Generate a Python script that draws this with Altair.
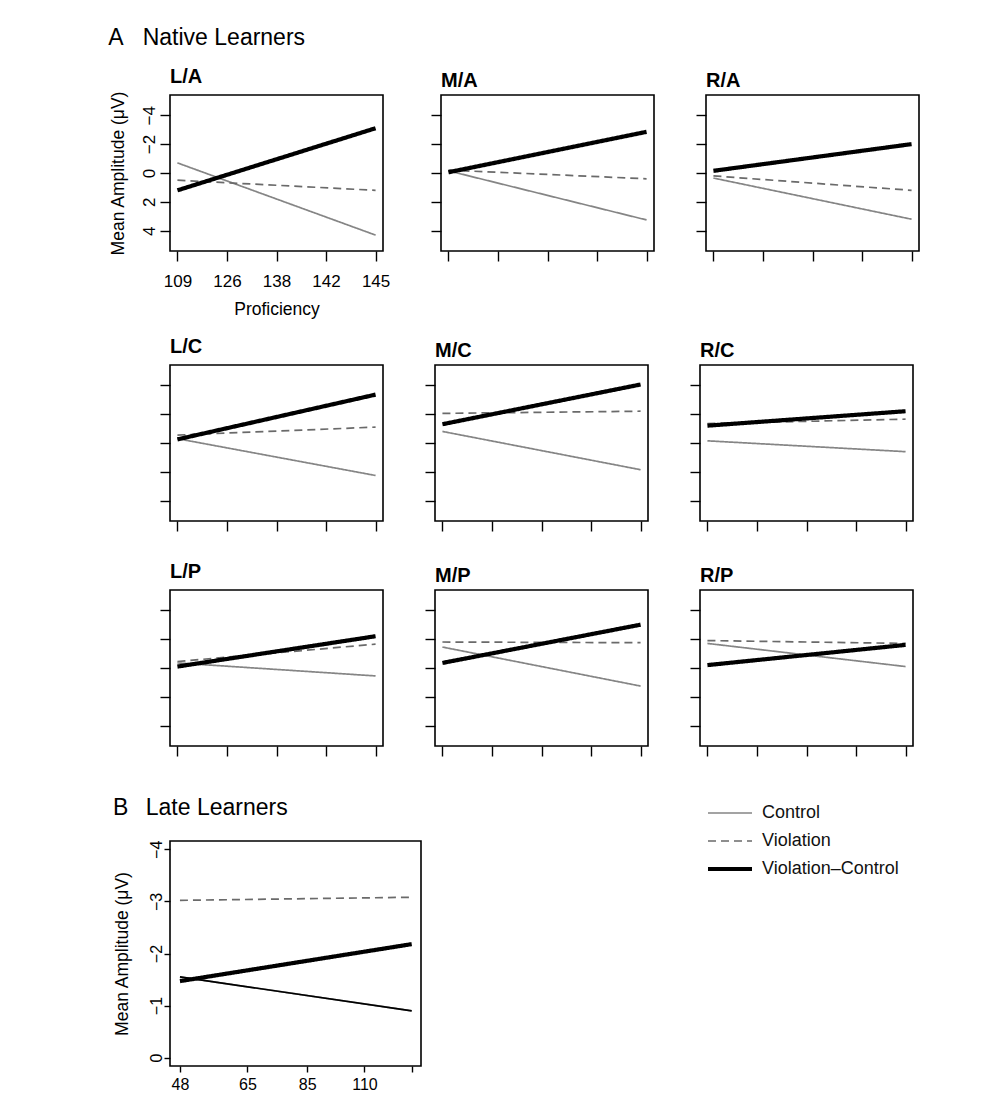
import altair as alt
import pandas as pd

# ---------------- data ----------------
series = ["Control", "Violation", "Violation\u2013Control"]
prof_ticks = [109, 126, 138, 142, 145]
panels = ["L/A", "M/A", "R/A", "L/C", "M/C", "R/C", "L/P", "M/P", "R/P"]

# mean amplitude (uV) at lowest (109) and highest (145) proficiency
control_start = [-0.7, -0.15, 0.35, -0.3, -0.8, -0.15, -0.35, -1.45, -1.7]
control_end = [4.3, 3.25, 3.2, 2.25, 1.85, 0.6, 0.55, 1.25, -0.1]
violation_start = [0.5, -0.2, 0.2, -0.55, -2.05, -1.35, -0.45, -1.8, -1.9]
violation_end = [1.2, 0.4, 1.2, -1.1, -2.2, -1.65, -1.65, -1.75, -1.7]
diff_start = [1.2, -0.05, -0.15, -0.25, -1.3, -1.2, -0.1, -0.35, -0.2]
diff_end = [-3.1, -2.85, -2.0, -3.35, -4.05, -2.2, -2.2, -3.0, -1.6]

a_y_ticks = [-4, -2, 0, 2, 4]

late_ticks = [48, 65, 85, 110, 136]
late_control = [-1.55, -0.9]
late_violation = [-3.02, -3.08]
late_diff = [-1.47, -2.18]
b_y_ticks = [-4, -3, -2, -1, 0]

FONT = "Liberation Sans"
THICK, THIN = 4.2, 1.7

rows = []
for i, p in enumerate(panels):
    for s, st, en in [(series[0], control_start[i], control_end[i]),
                      (series[1], violation_start[i], violation_end[i]),
                      (series[2], diff_start[i], diff_end[i])]:
        rows.append({"panel": p, "series": s, "prof": prof_ticks[0], "value": st})
        rows.append({"panel": p, "series": s, "prof": prof_ticks[-1], "value": en})
dfA = pd.DataFrame(rows)

rowsB = []
for s, vals in [(series[0], late_control), (series[1], late_violation), (series[2], late_diff)]:
    rowsB.append({"series": s, "prof": late_ticks[0], "value": vals[0]})
    rowsB.append({"series": s, "prof": late_ticks[-1], "value": vals[1]})
dfB = pd.DataFrame(rowsB)

width_expr = "datum.value === '%s' ? %s : %s" % (series[2], THICK, THIN)
legend_def = alt.Legend(
    title=None, orient="none", legendX=551, legendY=709,
    symbolType="stroke", symbolSize=1936, labelFontSize=18, labelFont=FONT,
    labelColor="#111111", labelOffset=23, rowPadding=10, padding=0,
    symbolStrokeWidth={"expr": width_expr},
)

color_enc = alt.Color("series:N", scale=alt.Scale(domain=series, range=["#858585", "#6a6a6a", "#000000"]), legend=legend_def)
dash_enc = alt.StrokeDash("series:N", scale=alt.Scale(domain=series, range=[[1, 0], [8, 5], [1, 0]]), legend=legend_def)
width_enc = alt.condition(alt.datum.series == series[2], alt.value(THICK), alt.value(THIN))

PW, PH = 213, 156


def panel(name, r, c):
    d = dfA[dfA["panel"] == name]
    first = (r == 0 and c == 0)
    if first:
        xaxis = alt.Axis(values=prof_ticks, labelAngle=0, tickSize=10, labelPadding=12,
                         title="Proficiency", titlePadding=11, labelFontSize=17, titleFontSize=17.5)
    else:
        xaxis = alt.Axis(values=prof_ticks, labels=False, tickSize=10, title=None)
    if c == 0:
        op = 1 if r == 0 else 0
        yaxis = alt.Axis(values=a_y_ticks, tickSize=10, labelAngle=270, labelAlign="center",
                         labelBaseline="alphabetic", labelPadding=6, labelFontSize=17,
                         labelOpacity=op, title="Mean Amplitude (\u03bcV)", titleOpacity=op,
                         titlePadding=13, titleFontSize=17.5)
    else:
        yaxis = alt.Axis(values=a_y_ticks, labels=False, tickSize=10, title=None)
    return alt.Chart(d).mark_line().encode(
        x=alt.X("prof:O", scale=alt.Scale(type="point", domain=prof_ticks, padding=0.15), axis=xaxis),
        y=alt.Y("value:Q", scale=alt.Scale(domain=[-5.4, 5.4], reverse=True, nice=False, zero=False), axis=yaxis),
        color=color_enc, strokeDash=dash_enc, strokeWidth=width_enc,
    ).properties(
        width=PW, height=PH,
        title=alt.TitleParams(name, anchor="start", frame="group", fontSize=20, fontWeight="bold",
                              font=FONT, offset=4, color="black"),
    )


grid = [[panel(panels[r * 3 + c], r, c) for c in range(3)] for r in range(3)]
row_charts = [alt.hconcat(*grid[r], spacing=38) for r in range(3)]

A_block = alt.vconcat(
    row_charts[0],
    alt.vconcat(row_charts[1], row_charts[2], spacing=27),
    spacing=16,
    title=alt.TitleParams("A\u00a0\u00a0\u00a0Native Learners", anchor="start", frame="bounds",
                          fontSize=23, fontWeight="normal", font=FONT, offset=16, color="black"),
)

bx = alt.X("prof:Q", scale=alt.Scale(type="log", domain=[45.9, 141.8], nice=False),
           axis=alt.Axis(values=late_ticks, labelExpr="datum.value == 136 ? '' : datum.label",
                         tickSize=6, labelPadding=4, labelFontSize=16, labelAngle=0, title=None,
                         format="d"))
by = alt.Y("value:Q", scale=alt.Scale(domain=[-4.16, 0.16], reverse=True, nice=False, zero=False),
           axis=alt.Axis(values=b_y_ticks, tickSize=6, labelAngle=270, labelAlign="center",
                         labelBaseline="alphabetic", labelPadding=3, labelFontSize=16,
                         title="Mean Amplitude (\u03bcV)", titlePadding=17, titleFontSize=17.5))

B_base = alt.Chart(dfB).mark_line().encode(
    x=bx, y=by, color=color_enc, strokeDash=dash_enc, strokeWidth=width_enc)
B_control = alt.Chart(dfB).transform_filter(alt.datum.series == series[0]).mark_line(
    color="black", strokeWidth=THIN).encode(x=bx, y=by)

B_block = alt.layer(B_base, B_control).properties(
    width=251, height=225,
    title=alt.TitleParams("B\u00a0\u00a0\u2009Late Learners", anchor="start", frame="bounds",
                          fontSize=23, fontWeight="normal", font=FONT, offset=20, color="black"),
)

chart = alt.vconcat(A_block, B_block, spacing=38).properties(
    padding={"left": 100, "top": 18, "right": 10, "bottom": 5},
    background="white",
).configure_view(
    stroke="black", strokeWidth=1.6
).configure_axis(
    domain=False, grid=False, tickColor="black", tickWidth=1.4,
    labelFont=FONT, labelColor="black", titleFont=FONT, titleColor="black",
    titleFontWeight="normal",
)

chart.save("out.html", embed_options={"renderer": "svg", "actions": False})
